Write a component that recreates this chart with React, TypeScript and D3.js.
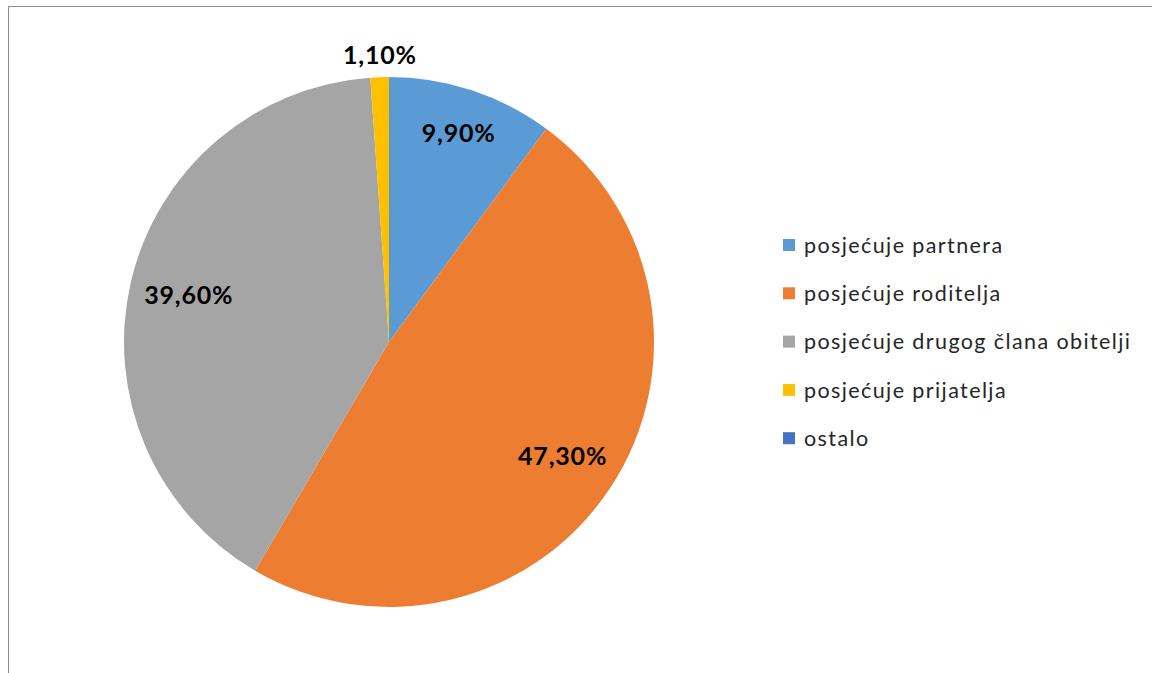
import { useRef, useEffect } from "react";
import * as d3 from "d3";

const categories = [
  "posjećuje partnera",
  "posjećuje roditelja",
  "posjećuje drugog člana obitelji",
  "posjećuje prijatelja",
  "ostalo",
];
const values = [9.9, 47.3, 39.6, 1.1, 0];
const labels = ["9,90%", "47,30%", "39,60%", "1,10%", ""];
const colors = ["#5B9BD5", "#ED7D31", "#A5A5A5", "#FFC000", "#4472C4"];

const W = 1152;
const H = 673;
const FONT = "Lato, 'Open Sans', sans-serif";

export default function App() {
  const svgRef = useRef<SVGSVGElement>(null);

  useEffect(() => {
    if (!svgRef.current) return;
    const svg = d3.select(svgRef.current);
    svg.selectAll("*").remove();

    // chart frame (only left and top edges visible)
    svg
      .append("path")
      .attr("d", `M8.5,${H} V6.5 H${W}`)
      .attr("fill", "none")
      .attr("stroke", "#8c8c8c")
      .attr("stroke-width", 1);

    const cx = 389;
    const cy = 342;
    const R = 265;

    const pie = d3
      .pie<number>()
      .sort(null)
      .value((d) => d);
    const arcs = pie(values);
    const total = d3.sum(values);

    const arc = d3.arc<d3.PieArcDatum<number>>().innerRadius(0).outerRadius(R);
    const ringAt = (r: number) =>
      d3.arc<d3.PieArcDatum<number>>().innerRadius(r).outerRadius(r);
    const wideRing = ringAt(R * 0.78);
    const narrowRing = ringAt(R * 0.83);
    const outer = ringAt(R + 22);

    const g = svg.append("g").attr("transform", `translate(${cx},${cy})`);

    g.selectAll("path.slice")
      .data(arcs)
      .join("path")
      .attr("class", "slice")
      .attr("d", arc)
      .attr("fill", (_, i) => colors[i]);

    g.selectAll("text.lbl")
      .data(arcs.filter((a) => a.value > 0))
      .join("text")
      .attr("class", "lbl")
      .attr("transform", (a) => {
        const frac = a.value / total;
        const ring = frac < 0.05 ? outer : frac < 0.2 ? narrowRing : wideRing;
        const [x, y] = ring.centroid(a);
        return `translate(${x + 1},${y})`;
      })
      .attr("text-anchor", "middle")
      .attr("dy", "0.36em")
      .attr("font-family", FONT)
      .attr("font-weight", "bold")
      .attr("font-size", 25)
      .attr("letter-spacing", 0.8)
      .attr("fill", "#000")
      .text((a) => labels[a.index]);

    // legend
    const legend = svg.append("g").attr("transform", "translate(783,245)");
    const rowH = 48.3;
    categories.forEach((c, i) => {
      const row = legend.append("g").attr("transform", `translate(0,${i * rowH})`);
      row
        .append("rect")
        .attr("x", 0)
        .attr("y", -6)
        .attr("width", 12)
        .attr("height", 12)
        .attr("fill", colors[i]);
      row
        .append("text")
        .attr("x", 21)
        .attr("dy", "0.36em")
        .attr("font-family", FONT)
        .attr("font-size", 21.5)
        .attr("letter-spacing", 1.4)
        .attr("fill", "#262626")
        .text(c);
    });
  }, []);

  return (
    <svg
      ref={svgRef}
      width={W}
      height={H}
      style={{ position: "absolute", left: 0, top: 0, background: "#fff" }}
    />
  );
}
